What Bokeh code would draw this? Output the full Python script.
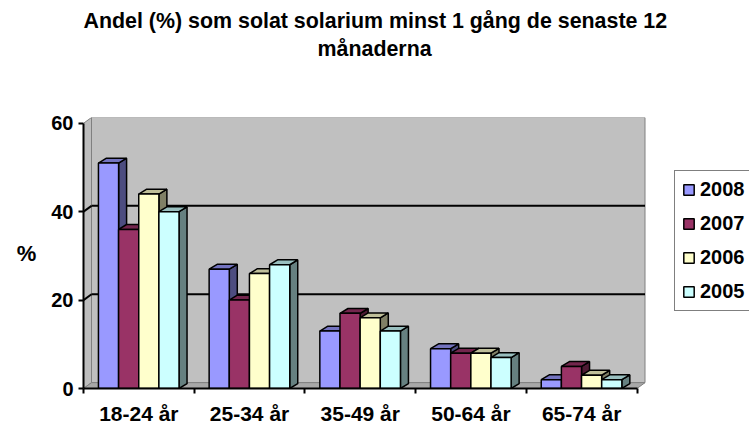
from bokeh.plotting import figure
from bokeh.models import Range1d, FixedTicker, Legend, LegendItem, ColumnDataSource, Title, LinearAxis
from bokeh.embed import file_html
from bokeh.resources import INLINE

# ---------------- data ----------------
title_lines = ["Andel (%) som solat solarium minst 1 gång de senaste 12", "månaderna"]
categories = ["18-24 år", "25-34 år", "35-49 år", "50-64 år", "65-74 år"]
series_names = ["2008", "2007", "2006", "2005"]
v2008 = [51, 27, 13, 9, 2]
v2007 = [36, 20, 17, 8, 5]
v2006 = [44, 26, 16, 8, 3]
v2005 = [40, 28, 13, 7, 2]
y_ticks = [0, 20, 40, 60]
y_label = "%"

series_values = [v2008, v2007, v2006, v2005]

# ---------------- styles ----------------
front_colors = ["#9999FF", "#993366", "#FFFFCC", "#CCFFFF"]
top_colors = ["#7373BF", "#73264D", "#BFBF99", "#99BFBF"]
side_colors = ["#4D4D80", "#4D1A33", "#808066", "#668080"]

W, H = 749, 427
LEFT, TOP, BOTTOM = 83, 117, 32
PX_X = 110.7          # px per category
PX_Y = 4.534          # px per % unit
frame_w = W - LEFT
frame_h = H - TOP - BOTTOM

DX = 8 / PX_X         # 3D depth (x) in category units
DY_BAR = 5 / PX_Y     # 3D depth (y) for bars
DY_WALL = 6 / PX_Y    # 3D depth (y) for walls
BAR_W = 0.182
GROUP_OFF = 0.135
ymax = y_ticks[-1]
ncat = len(categories)
x_end = frame_w / PX_X

p = figure(width=W, height=H, output_backend="svg", toolbar_location=None,
           x_range=Range1d(0, x_end), y_range=Range1d(0, frame_h / PX_Y),
           min_border_left=LEFT, min_border_right=0,
           min_border_top=TOP, min_border_bottom=BOTTOM)
p.grid.visible = False
p.outline_line_color = None
p.background_fill_color = "white"
p.border_fill_color = "white"
p.title.standoff = 0

xa = p.below[0]   # category axis
ax = p.left[0]    # value axis

# blank spacer between the plot area and the title (one white tick at the far right, no line)
spacer_tick = x_end - 0.05
spacer = LinearAxis(ticker=FixedTicker(ticks=[spacer_tick]), axis_line_color=None,
                    major_tick_line_color="white", minor_tick_line_color=None,
                    major_tick_out=57, major_tick_in=0, minor_tick_out=0,
                    major_label_standoff=0, major_label_text_font_size="0px",
                    major_label_overrides={spacer_tick: ""})
p.add_layout(spacer, "above")

# title: two lines, each centred on the whole chart
title_font_px = 21.4
title_widths = [584, 114]
title_standoffs = [4, 0]
for line, wdt, so in reversed(list(zip(title_lines, title_widths, title_standoffs))):
    t = Title(text=line, align="left", offset=round(W / 2 - wdt / 2 - LEFT),
              text_font="Liberation Sans", text_font_size=f"{title_font_px}px",
              text_font_style="bold", text_color="black", standoff=so)
    p.add_layout(t, "above")

# walls
p.patch(x=[0, DX, DX, 0], y=[0, DY_WALL, ymax + DY_WALL, ymax],
        fill_color="#BDBDBD", line_color="#808080", line_width=1)
p.quad(left=[DX], right=[ncat + DX], bottom=[DY_WALL], top=[ymax + DY_WALL],
       fill_color="#C0C0C0", line_color="#808080", line_width=1)
p.patch(x=[0, ncat, ncat + DX, DX], y=[0, 0, DY_WALL, DY_WALL],
        fill_color="#A8A8A8", line_color="#808080", line_width=1)

# gridlines on back wall and side wall
grid_vals = y_ticks[1:-1]
p.segment(x0=[DX] * len(grid_vals), x1=[ncat + DX] * len(grid_vals),
          y0=[g + DY_WALL for g in grid_vals], y1=[g + DY_WALL for g in grid_vals],
          line_color="black", line_width=2)
p.segment(x0=[0] * len(grid_vals), x1=[DX] * len(grid_vals),
          y0=grid_vals, y1=[g + DY_WALL for g in grid_vals],
          line_color="black", line_width=2)

# 3D bars: side and top faces first
side_xs, side_ys, side_c = [], [], []
top_xs, top_ys, top_c = [], [], []
fronts = []
for j, vals in enumerate(series_values):
    lefts, rights = [], []
    for i, v in enumerate(vals):
        x0 = i + GROUP_OFF + j * BAR_W
        x1 = x0 + BAR_W
        lefts.append(x0)
        rights.append(x1)
        side_xs.append([x1, x1 + DX, x1 + DX, x1])
        side_ys.append([0, DY_BAR, v + DY_BAR, v])
        side_c.append(side_colors[j])
        top_xs.append([x0, x1, x1 + DX, x0 + DX])
        top_ys.append([v, v, v + DY_BAR, v + DY_BAR])
        top_c.append(top_colors[j])
    fronts.append((lefts, rights, vals))

p.patches(xs="xs", ys="ys", fill_color="c", line_color="black", line_width=1.5,
          source=ColumnDataSource(dict(xs=side_xs, ys=side_ys, c=side_c)))
p.patches(xs="xs", ys="ys", fill_color="c", line_color="black", line_width=1.5,
          source=ColumnDataSource(dict(xs=top_xs, ys=top_ys, c=top_c)))

renderers = []
for j, (lefts, rights, vals) in enumerate(fronts):
    r = p.quad(left=lefts, right=rights, bottom=[0] * len(vals), top=vals,
               fill_color=front_colors[j], line_color="black", line_width=1.5)
    renderers.append(r)

# category axis
centers = [i + 0.5 for i in range(ncat)]
xa.ticker = FixedTicker(ticks=centers, minor_ticks=list(range(ncat + 1)))
xa.bounds = (0, ncat)
xa.major_label_overrides = {c: lab for c, lab in zip(centers, categories)}
xa.axis_line_width = 2
xa.axis_line_color = "black"
xa.major_tick_out = 0
xa.major_tick_in = 0
xa.minor_tick_out = 5
xa.minor_tick_in = 0
xa.minor_tick_line_width = 2
xa.minor_tick_line_color = "black"
xa.major_label_text_font = "Liberation Sans"
xa.major_label_text_font_size = "21px"
xa.major_label_text_font_style = "bold"
xa.major_label_text_color = "black"
xa.major_label_standoff = 8

# value axis
ax.ticker = FixedTicker(ticks=y_ticks)
ax.bounds = (y_ticks[0], y_ticks[-1])
ax.axis_line_width = 2
ax.axis_line_color = "black"
ax.major_tick_out = 5
ax.major_tick_in = 0
ax.major_tick_line_width = 2
ax.minor_tick_out = 0
ax.minor_tick_in = 0
ax.major_label_text_font = "Liberation Sans"
ax.major_label_text_font_size = "20px"
ax.major_label_text_font_style = "bold"
ax.major_label_text_color = "black"
ax.major_label_standoff = 5
ax.axis_label = y_label
ax.axis_label_orientation = "horizontal"
ax.axis_label_text_font = "Liberation Sans"
ax.axis_label_text_font_size = "22px"
ax.axis_label_text_font_style = "bold"
ax.axis_label_text_color = "black"
ax.axis_label_standoff = 12

# legend (inside the wide frame, right of the back wall)
legend = Legend(items=[LegendItem(label=n, renderers=[r]) for n, r in zip(series_names, renderers)],
                location=(591, 77))
legend.border_line_color = "black"
legend.border_line_width = 1.5
legend.background_fill_color = "white"
legend.background_fill_alpha = 1
legend.label_text_font = "Liberation Sans"
legend.label_text_font_size = "20px"
legend.label_text_font_style = "bold"
legend.label_text_color = "black"
legend.glyph_width = 13
legend.glyph_height = 13
legend.label_standoff = 5
legend.label_height = 20
legend.spacing = 11
legend.padding = 7
legend.margin = 0
p.add_layout(legend)

open("out.html", "w").write(file_html(p, INLINE))
